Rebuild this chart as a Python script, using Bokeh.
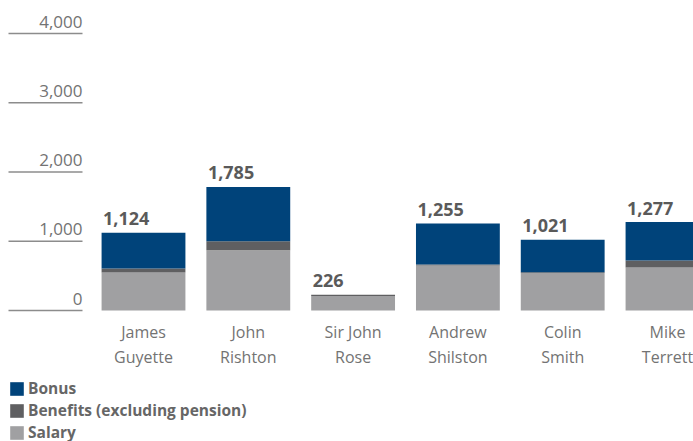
from bokeh.plotting import figure
from bokeh.models import ColumnDataSource, Range1d, Legend, LegendItem
from bokeh.core.properties import value
from bokeh.embed import file_html
from bokeh.resources import INLINE

# ---- data (thousand £) ----
names_line1 = ["James", "John", "Sir John", "Andrew", "Colin", "Mike"]
names_line2 = ["Guyette", "Rishton", "Rose", "Shilston", "Smith", "Terrett"]
salary = [549, 870, 211, 650, 540, 621]
benefits = [58, 129, 15, 13, 14, 101]
bonus = [517, 786, 0, 592, 467, 555]
totals = [1124, 1785, 226, 1255, 1021, 1277]
y_ticks = [0, 1000, 2000, 3000, 4000]
y_tick_labels = ["0", "1,000", "2,000", "3,000", "4,000"]
series_names = ["Bonus", "Benefits (excluding pension)", "Salary"]

# ---- styles ----
C_BONUS = "#00437a"
C_BEN = "#5f5f61"
C_SAL = "#a0a0a2"
C_TXT = "#5a5a5a"
C_AX = "#737373"

W, H = 693, 441
PX_X = 104.8            # pixels per category
X0_PX = 143.0           # pixel centre of first category
PX_Y = 69.25 / 1000.0   # pixels per unit
Y0_PX = 310.0           # pixel row of zero
TXT_SHIFT = 7           # renderer baseline correction (px)

def xd(px):
    return (px - X0_PX) / PX_X

def yd_off(px):
    return px / PX_Y

x = list(range(len(names_line1)))
src = ColumnDataSource(dict(x=x, salary=salary, benefits=benefits, bonus=bonus))

p = figure(width=W, height=H, output_backend="svg", toolbar_location=None,
           x_axis_type=None, y_axis_type=None,
           x_range=Range1d(xd(0), xd(W)),
           y_range=Range1d(-yd_off(H - Y0_PX), yd_off(Y0_PX)),
           min_border=0, outline_line_color=None)
p.grid.visible = False
p.background_fill_color = "white"

rs = p.vbar_stack(["salary", "benefits", "bonus"], x="x", width=0.8,
                  color=[C_SAL, C_BEN, C_BONUS], line_color=None, source=src)

# value labels
tot_src = ColumnDataSource(dict(x=[i - 0.4 + xd(X0_PX + 1.5) for i in x],
                                y=[t + yd_off(7 + TXT_SHIFT) for t in totals],
                                t=[f"{t:,}" for t in totals]))
p.text(x="x", y="y", text="t", source=tot_src, text_font=value("Open Sans"),
       text_font_style="bold", text_font_size="18px", text_color=C_TXT,
       text_align="left", text_baseline="alphabetic")

# y tick lines and labels
tick_src = ColumnDataSource(dict(y=y_ticks, ly=[v + yd_off(5 + TXT_SHIFT) for v in y_ticks],
                                 lab=y_tick_labels))
p.segment(x0=xd(8), x1=xd(82), y0="y", y1="y", source=tick_src,
          line_color="#8c8c8c", line_width=1.5)
p.text(x=xd(82), y="ly", text="lab", source=tick_src, text_font=value("Open Sans"),
       text_font_size="17px", text_color=C_AX, text_align="right",
       text_baseline="alphabetic")

# category labels
cat_src = ColumnDataSource(dict(x=x, y1=[-yd_off(28 - TXT_SHIFT)] * len(x),
                                y2=[-yd_off(53 - TXT_SHIFT)] * len(x),
                                l1=names_line1, l2=names_line2))
for col in ("1", "2"):
    p.text(x="x", y="y" + col, text="l" + col, source=cat_src,
           text_font=value("Open Sans"), text_font_size="16px",
           text_color=C_AX, text_align="center", text_baseline="alphabetic")

legend = Legend(items=[LegendItem(label=series_names[0], renderers=[rs[2]]),
                       LegendItem(label=series_names[1], renderers=[rs[1]]),
                       LegendItem(label=series_names[2], renderers=[rs[0]])],
                location=(8, -2), orientation="vertical",
                glyph_width=17, glyph_height=17, label_height=17,
                label_width=10, spacing=0, padding=0, margin=0,
                label_standoff=3, border_line_color=None,
                background_fill_alpha=0,
                label_text_font="Open Sans", label_text_font_style="bold",
                label_text_font_size="15.5px", label_text_color="#666666")
p.add_layout(legend)

open("out.html", "w").write(file_html(p, INLINE))
